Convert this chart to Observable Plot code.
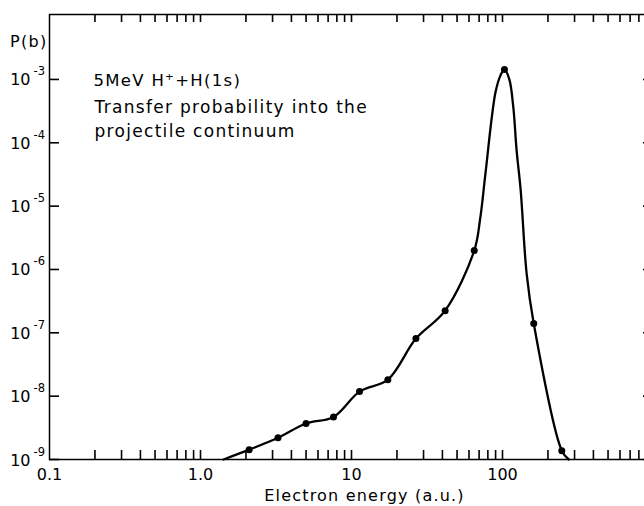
<!DOCTYPE html>
<html><head><meta charset="utf-8">
<script src="https://cdn.jsdelivr.net/npm/d3@7"></script>
<script src="https://cdn.jsdelivr.net/npm/@observablehq/plot@0.6"></script>
<style>
body{margin:0;background:#fff;}
svg g[aria-description="annotation"] text{letter-spacing:1.3px;}
svg g[aria-description="axistitle"] text{letter-spacing:1.2px;}
</style>
</head><body><div id="chart"></div>
<script>
// Data points (dots)
const dotEnergy = [2.1, 3.26, 5.0, 7.6, 11.3, 17.4, 26.7, 41.7, 65, 103, 161, 247];
const dotProb   = [1.43e-9, 2.2e-9, 3.7e-9, 4.7e-9, 1.18e-8, 1.82e-8, 8.1e-8, 2.24e-7, 1.99e-6, 1.44e-3, 1.4e-7, 1.38e-9];
// Drawn curve (passes through the dots)
const curveEnergy = [1.42, 2.1, 3.26, 5.0, 7.6, 11.3, 17.4, 26.7, 41.7, 65, 71.3, 77.1, 89.8, 97, 103, 111, 118, 124, 132, 144.5, 161, 247, 275];
const curveProb   = [1e-9, 1.43e-9, 2.2e-9, 3.7e-9, 4.7e-9, 1.18e-8, 1.82e-8, 8.1e-8, 2.24e-7, 1.99e-6, 6.6e-6, 3.27e-5, 6.2e-4, 1.16e-3, 1.44e-3, 1.0e-3, 3.6e-4, 7.6e-5, 1.76e-5, 8.6e-7, 1.4e-7, 1.38e-9, 1e-9];
// Axes
const xTicks = [0.2,0.3,0.4,0.5,0.6,0.7,0.8,0.9,1,2,3,4,5,6,7,8,9,10,20,30,40,50,60,70,80,90,100,200,300,400,500,600,700,800,900];
const xLabelValues = [0.1, 1, 10, 100];
const xLabels = ["0.1", "1.0", "10", "100"];
const yTicks = [1e-9, 1e-8, 1e-7, 1e-6, 1e-5, 1e-4, 1e-3];
const titleText = "5MeV H\u207A+H(1s)";
const noteText = "Transfer probability into the\nprojectile continuum";
const yTitle = "P(b)";
const xTitle = "Electron energy (a.u.)";

const dots = dotEnergy.map((e, i) => ({e, p: dotProb[i]}));
const curve = curveEnergy.map((e, i) => ({e, p: curveProb[i]}));

const frameW = 604, frameH = 445;
const chart = Plot.plot({
  width: 644, height: 506,
  marginTop: 14, marginLeft: 49, marginBottom: 47, marginRight: -9,
  x: {type: "log", domain: [0.1, 1000], axis: null},
  y: {type: "log", domain: [1e-9, 1.06e-2], axis: null},
  style: {fontFamily: "DejaVu Sans", fontSize: "16px", color: "black", background: "white"},
  marks: [
    Plot.frame({stroke: "black", strokeWidth: 1.5}),
    // bottom ticks (inward)
    Plot.ruleX(xTicks, {x: d => d, insetTop: frameH - 9, stroke: "black", strokeWidth: 1.6}),
    // top ticks (inward)
    Plot.ruleX(xTicks, {x: d => d, insetBottom: frameH - 8, stroke: "black", strokeWidth: 1.6}),
    // left ticks
    Plot.ruleY(yTicks, {y: d => d, insetRight: frameW - 10, stroke: "black", strokeWidth: 1.6}),
    // right ticks
    Plot.ruleY(yTicks, {y: d => d, insetLeft: frameW - 10, stroke: "black", strokeWidth: 1.6}),
    // x tick labels
    Plot.text(xLabelValues, {x: d => d, frameAnchor: "bottom", text: d => xLabels[xLabelValues.indexOf(d)], lineAnchor: "top", dy: 9, fontSize: 16}),
    // y tick labels: base and exponent
    Plot.text(yTicks, {y: d => d, frameAnchor: "left", text: () => "10", textAnchor: "end", lineAnchor: "bottom", dx: -19, dy: 6, fontSize: 16}),
    Plot.text(yTicks, {y: d => d, frameAnchor: "left", text: d => String(Math.round(Math.log10(d))), textAnchor: "start", lineAnchor: "bottom", dx: -16, dy: -4, fontSize: 11.5}),
    Plot.line(curve, {x: "e", y: "p", curve: "catmull-rom", stroke: "black", strokeWidth: 2.3}),
    Plot.dot(dots, {x: "e", y: "p", r: 3.5, fill: "black"}),
    Plot.text([titleText], {frameAnchor: "top-left", dx: 44, dy: 71, textAnchor: "start", lineAnchor: "bottom", fontSize: 16.5, ariaDescription: "annotation"}),
    Plot.text([noteText], {frameAnchor: "top-left", dx: 45, dy: 122, textAnchor: "start", lineAnchor: "bottom", lineHeight: 1.36, fontSize: 17, ariaDescription: "annotation"}),
    Plot.text([yTitle], {frameAnchor: "top-left", dx: -2, dy: 32, textAnchor: "end", lineAnchor: "bottom", fontSize: 16, ariaDescription: "annotation"}),
    Plot.text([xTitle], {frameAnchor: "bottom", dx: 13, dy: 41, lineAnchor: "bottom", fontSize: 16, ariaDescription: "axistitle"})
  ]
});
document.getElementById("chart").appendChild(chart);
</script>
</body></html>
